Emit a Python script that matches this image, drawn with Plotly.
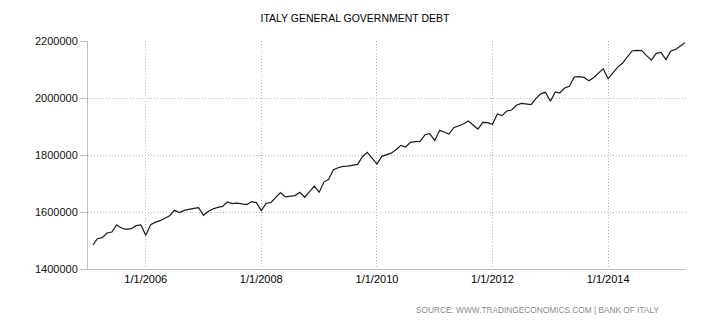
import pandas as pd
import plotly.graph_objects as go

# Monthly general government debt, millions of euro (Feb 2005 - May 2015)
start_month = "2005-02-01"
debt = [
    1484200, 1506400, 1509900, 1526300, 1529800, 1554400, 1543900, 1539200,
    1541500, 1552000, 1554400,
    1518100, 1555600, 1563700, 1569600, 1579000, 1587100, 1605800, 1597700,
    1605800, 1610500, 1612900, 1615200,
    1588300, 1602300, 1610500, 1616400, 1619900, 1635100, 1629200, 1631000,
    1627500, 1625900, 1636500, 1632900,
    1604700, 1630600, 1632900, 1651800, 1668200, 1653000, 1655300, 1657600,
    1669400, 1651800, 1671800, 1690600,
    1669400, 1705900, 1714100, 1748200, 1755300, 1760000, 1761200, 1763500,
    1767100, 1794100, 1809400, 1789400,
    1768200, 1795300, 1801800, 1806500, 1818700, 1833900, 1828100, 1844400,
    1846800, 1848000, 1871300, 1874900,
    1850300, 1886500, 1880700, 1873700, 1895900, 1902900, 1908800, 1919300,
    1906400, 1891200, 1914600, 1913400,
    1907600, 1943900, 1938000, 1954400, 1957900, 1974300, 1981300, 1979000,
    1976600, 1998000, 2014600, 2019900,
    1988300, 2021100, 2017500, 2035100, 2040900, 2073700, 2074900, 2072500,
    2060800, 2071300, 2086500, 2102900,
    2067800, 2090100, 2107600, 2121600, 2142700, 2164900, 2167300, 2166100,
    2148500, 2133300, 2156700, 2160200,
    2134500, 2164900, 2169600, 2182500, 2194200,
]
months = pd.date_range(start_month, periods=len(debt), freq="MS")

title_text = "ITALY GENERAL GOVERNMENT DEBT"
source_text = "SOURCE: WWW.TRADINGECONOMICS.COM | BANK OF ITALY"

font_family = "Liberation Sans, Arial, sans-serif"
grid_color = "#b4b4b4"
axis_color = "#c0c0c0"
grid_dash = "1px,2px"

fig = go.Figure(
    go.Scatter(
        x=months,
        y=debt,
        mode="lines",
        line=dict(color="#1a1a1a", width=1.2),
        hoverinfo="skip",
    )
)

fig.update_layout(
    width=710,
    height=325,
    margin=dict(l=88, r=24, t=41, b=56),
    paper_bgcolor="white",
    plot_bgcolor="white",
    showlegend=False,
    font=dict(family=font_family, size=11, color="#222222"),
    title=dict(
        text=title_text,
        x=0.5,
        xanchor="center",
        y=1 - 18 / 325,
        yanchor="middle",
        yref="container",
        font=dict(family=font_family, size=10.5, color="#000000"),
    ),
)

fig.update_xaxes(
    type="date",
    range=["2005-01-01", "2015-05-08"],
    tick0="2006-01-01",
    dtick="M24",
    tickformat="%-m/%-d/%Y",
    showgrid=True,
    gridcolor=grid_color,
    griddash=grid_dash,
    gridwidth=1,
    showline=True,
    linecolor=axis_color,
    linewidth=1,
    ticks="",
    zeroline=False,
    tickfont=dict(family=font_family, size=11, color="#000000"),
)

fig.update_yaxes(
    range=[1400000, 2200000],
    dtick=200000,
    tickformat="d",
    showgrid=True,
    gridcolor=grid_color,
    griddash=grid_dash,
    gridwidth=1,
    showline=True,
    linecolor=axis_color,
    linewidth=1,
    ticks="outside",
    ticklen=7,
    tickcolor=axis_color,
    zeroline=False,
    tickfont=dict(family=font_family, size=11, color="#111111"),
)

fig.add_annotation(
    text=source_text,
    xref="paper",
    yref="paper",
    x=(661 - 88) / 598,
    y=(269 - 310) / 228,
    xanchor="right",
    yanchor="middle",
    showarrow=False,
    font=dict(family=font_family, size=8.3, color="#8a8a8a"),
)

fig.write_html("out.html")
